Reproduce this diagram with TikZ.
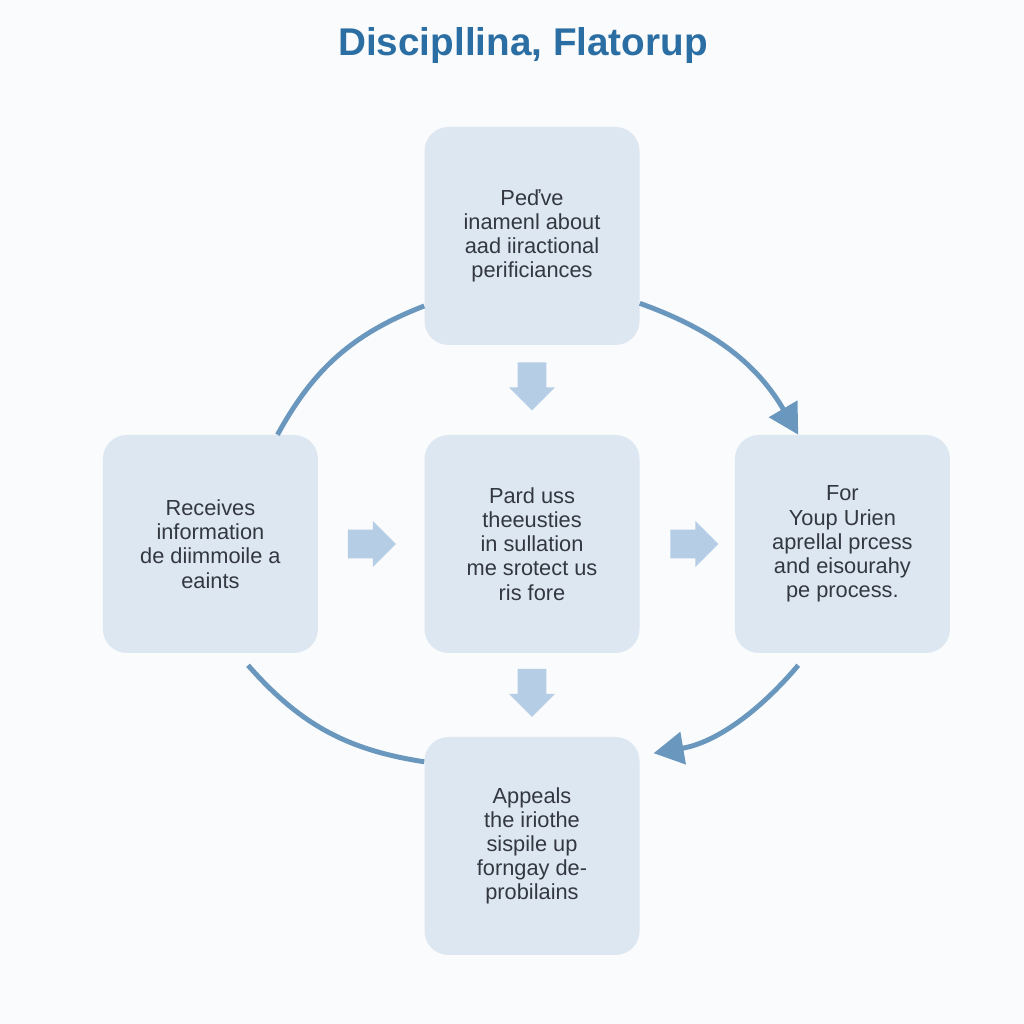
\documentclass[tikz,border=0pt]{standalone}
\usepackage{fontspec}
\setmainfont{Liberation Sans}
\usepackage{xcolor}
\usepackage{tikz}
\usetikzlibrary{shapes,arrows.meta,positioning,calc}
\definecolor{boxblue}{HTML}{DDE7F2}
\definecolor{blockblue}{HTML}{B5CDE5}
\definecolor{curveblue}{HTML}{6A97BE}
\definecolor{titleblue}{HTML}{2B6EA3}
\definecolor{textgray}{HTML}{333840}
\definecolor{pagewhite}{HTML}{FAFBFC}

\begin{document}
\begin{tikzpicture}[
    node distance=7.7cm,
    every node/.style={font=\fontsize{15.5}{17.2}\selectfont},
    block/.style={rectangle, fill=boxblue, text=textgray, align=center,
                  minimum width=5.375cm, minimum height=5.45cm, rounded corners=0.6cm},
    barrow/.style={single arrow, fill=blockblue, draw=none, inner xsep=0pt, inner ysep=0.35cm,
                   minimum height=1.2cm, minimum width=1.15cm, single arrow head extend=0.22cm},
    curve/.style={line width=3.5pt, color=curveblue},
    arrow/.style={curve, -{Triangle[length=0.75cm, width=0.8cm]}}
]
    \fill[pagewhite] (0,0) rectangle (25.6,25.6);
    \useasboundingbox (0,0) rectangle (25.6,25.6);

    \node[text=titleblue, font=\fontsize{27.5}{32}\selectfont\bfseries] (title) at (13.075,24.45) {Discipllina, Flatorup};

    \node[block] (mid) at (13.3,12.0) {Pard uss\\theeusties\\in sullation\\me srotect us\\ris fore};
    \node[block, above of=mid] (top) {Peďve\\inamenl about\\aad iiractional\\perificiances};
    \node[block, left of=mid, xshift=-0.34cm] (left) {Receives\\information\\de diimmoile a\\eaints};
    \node[block, right of=mid, xshift=0.06cm] (right) {For\\Youp Urien\\aprellal prcess\\and eisourahy\\pe process.};
    \node[block, below of=mid, yshift=0.15cm] (bottom) {Appeals\\the iriothe\\sispile up\\forngay de-\\probilains};

    % block arrows between the boxes
    \node[barrow, rotate=-90] (down1) at ($(top.south)!0.38!(mid.north)$) {};
    \node[barrow] (right1) at ($(left.east)!0.44!(mid.west)$) {};
    \node[barrow] (right2) at ($(mid.east)!0.5!(right.west)$) {};
    \node[barrow, rotate=-90] (down2) at ($(mid.south)!0.39!(bottom.north)$) {};

    % the ring round the middle box
    \draw[curve] ([xshift=0.1cm]left.60) to[bend left=20] (top.213);
    \draw[arrow] (top.328) to[bend left=20] (right.112);
    \draw[arrow, shorten >=0.35cm] ([yshift=-0.3cm]right.248) to[bend left=20] (bottom.40);
    \draw[curve] ([yshift=-0.3cm]left.289) to[bend right=20] (bottom.142);
\end{tikzpicture}
\end{document}
